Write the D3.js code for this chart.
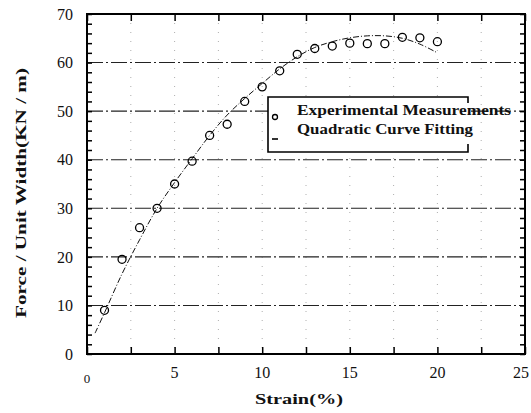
<!DOCTYPE html>
<html>
<head>
<meta charset="utf-8">
<script src="https://cdn.jsdelivr.net/npm/d3@7"></script>
<style>
  body { margin: 0; background: #fff; }
  svg text { font-family: "Liberation Serif", "Times New Roman", serif; fill: #111; }
</style>
</head>
<body>
<svg id="chart"></svg>
<script>
// strain (%) vs force per unit width
const strainPts = [1, 2, 3, 4, 5, 6, 7, 8, 9, 10, 11, 12, 13, 14, 15, 16, 17, 18, 19, 20];
const forcePts = [9, 19.5, 26, 30, 35, 39.7, 45, 47.3, 52, 55, 58.3, 61.7, 62.9, 63.4, 64, 63.9, 63.9, 65.2, 65.1, 64.3];

// the fitted curve
const fitStrain = [0.46, 1, 2, 3, 4, 5, 6, 7, 8, 9, 10, 11, 12, 13, 14, 15, 16, 17, 18, 19, 20];
const fitForce = [4.3, 8.5, 16.5, 23.5, 30, 35.3, 40.2, 45, 49.2, 52.6, 55.7, 58.7, 61.2, 63.1, 64.3, 65.1, 65.5, 65.5, 65, 63.8, 62];

const xTicks = [0, 5, 10, 15, 20, 25];
const yTicks = [0, 10, 20, 30, 40, 50, 60, 70];
const legendLabels = ["Experimental Measurements", "Quadratic Curve Fitting"];

let win = {w: 531, h: 413};
const svg = d3.select("#chart").attr("width", win.w).attr("height", win.h);

let plot = {l: 87, r: 525, t: 14, b: 354};
let x = d3.scaleLinear().domain([0, 25]).range([plot.l, plot.r]);
let y = d3.scaleLinear().domain([0, 70]).range([plot.b, plot.t]);

// faint vertical dotted lines
svg.append("g")
  .selectAll("line")
  .data(d3.range(2.5, 25, 2.5))
  .enter()
  .append("line")
  .attr("x1", d => x(d)).attr("x2", d => x(d))
  .attr("y1", plot.t).attr("y2", plot.b)
  .attr("stroke", "#999")
  .attr("stroke-width", 0.8)
  .attr("stroke-dasharray", "1,8");

// horizontal dash-dot grid
svg.append("g")
  .selectAll("line")
  .data(yTicks.filter(d => d > 0 && d < 70))
  .enter()
  .append("line")
  .attr("x1", plot.l).attr("x2", plot.r)
  .attr("y1", d => y(d)).attr("y2", d => y(d))
  .attr("stroke", "#222")
  .attr("stroke-width", 1.1)
  .attr("stroke-dasharray", "16,3,2,3");

// axes ticks (inward) on all four sides
let minorY = d3.range(0, 71, 2);
let minorX = d3.range(0, 25.1, 2.5);
function styleAxis(g) {
  g.select(".domain").remove();
  g.selectAll("text").remove();
  g.selectAll("line").attr("stroke", "#000").attr("stroke-width", 1.5);
}
svg.append("g").attr("transform", `translate(${plot.l},0)`)
  .call(d3.axisLeft(y).tickValues(minorY).tickSize(-5)).call(styleAxis);
svg.append("g").attr("transform", `translate(${plot.r},0)`)
  .call(d3.axisRight(y).tickValues(minorY).tickSize(-5)).call(styleAxis);
svg.append("g").attr("transform", `translate(0,${plot.b})`)
  .call(d3.axisBottom(x).tickValues(minorX).tickSize(-7)).call(styleAxis);
svg.append("g").attr("transform", `translate(0,${plot.t})`)
  .call(d3.axisTop(x).tickValues(minorX).tickSize(-7)).call(styleAxis);

// frame
svg.append("rect")
  .attr("x", plot.l).attr("y", plot.t)
  .attr("width", plot.r - plot.l).attr("height", plot.b - plot.t)
  .attr("fill", "none").attr("stroke", "#000").attr("stroke-width", 2);

// tick labels
svg.append("g").selectAll("text")
  .data(yTicks).enter().append("text")
  .attr("x", 73).attr("y", d => y(d) + 2)
  .attr("text-anchor", "end")
  .attr("dominant-baseline", "middle")
  .attr("font-size", 16)
  .text(d => d);

svg.append("g").selectAll("text")
  .data(xTicks).enter().append("text")
  .attr("x", d => d === 25 ? x(d) - 4 : x(d))
  .attr("y", d => d === 0 ? 383 : 378)
  .attr("text-anchor", "middle")
  .attr("font-size", d => d === 0 ? 13 : 16)
  .text(d => d);

// axis titles
svg.append("text")
  .attr("x", 299).attr("y", 404)
  .attr("text-anchor", "middle")
  .attr("font-size", 15).attr("font-weight", "bold")
  .attr("textLength", 88).attr("lengthAdjust", "spacingAndGlyphs")
  .text("Strain(%)");

svg.append("text")
  .attr("transform", "translate(26,193) rotate(-90)")
  .attr("text-anchor", "middle")
  .attr("font-size", 15).attr("font-weight", "bold")
  .attr("textLength", 250).attr("lengthAdjust", "spacingAndGlyphs")
  .text("Force / Unit Width(KN / m)");

// fitted curve
let line = d3.line()
  .x((d, i) => x(fitStrain[i]))
  .y(d => y(d))
  .curve(d3.curveCatmullRom);
svg.append("path")
  .attr("d", line(fitForce))
  .attr("fill", "none")
  .attr("stroke", "#111")
  .attr("stroke-width", 1)
  .attr("stroke-dasharray", "6,2,1,2");

// measurement circles
svg.append("g").selectAll("circle")
  .data(forcePts).enter().append("circle")
  .attr("cx", (d, i) => x(strainPts[i]))
  .attr("cy", d => y(d))
  .attr("r", 4)
  .attr("fill", "none")
  .attr("stroke", "#000")
  .attr("stroke-width", 1.3);

// legend
let leg = {l: 268, t: 97, r: 468, b: 152};
svg.append("rect")
  .attr("x", leg.l).attr("y", leg.t)
  .attr("width", leg.r - leg.l).attr("height", leg.b - leg.t)
  .attr("fill", "#fff").attr("stroke", "none");
svg.append("path")
  .attr("d", `M${leg.r},${leg.t + 6} V${leg.t} H${leg.l} V${leg.b} H${leg.r} V${leg.b - 8}`)
  .attr("fill", "none").attr("stroke", "#000").attr("stroke-width", 1.6);

svg.append("circle")
  .attr("cx", 275).attr("cy", 117).attr("r", 2.5)
  .attr("fill", "none").attr("stroke", "#000").attr("stroke-width", 1.3);
svg.append("line")
  .attr("x1", 272).attr("x2", 278).attr("y1", 139).attr("y2", 139)
  .attr("stroke", "#000").attr("stroke-width", 1.6);

svg.append("g").selectAll("text")
  .data(legendLabels).enter().append("text")
  .attr("x", 297)
  .attr("y", (d, i) => 115 + i * 19)
  .attr("font-size", 15)
  .attr("font-weight", "bold")
  .attr("textLength", (d, i) => i === 0 ? 214 : 176)
  .attr("lengthAdjust", "spacingAndGlyphs")
  .text(d => d);
</script>
</body>
</html>
